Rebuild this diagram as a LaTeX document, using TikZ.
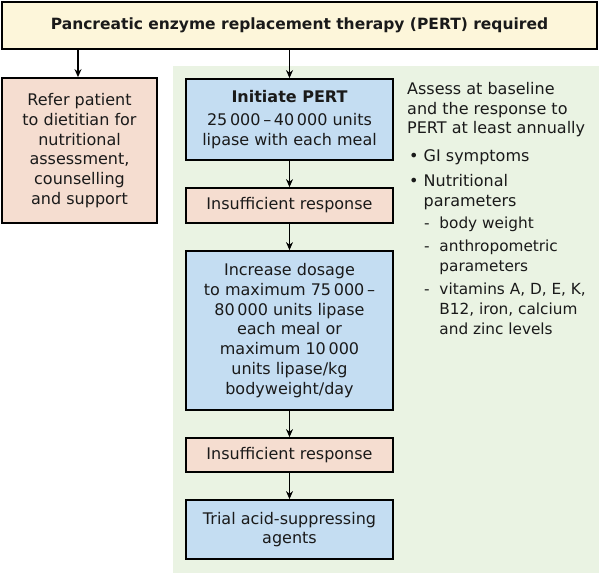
\documentclass[tikz,border=0pt]{standalone}
\usepackage{fontspec}
\setmainfont{DejaVu Sans}
\usetikzlibrary{arrows.meta}
\definecolor{cream}{HTML}{FDF6DA}
\definecolor{pinkbox}{HTML}{F5DDD0}
\definecolor{bluebox}{HTML}{C4DDF2}
\definecolor{greenbg}{HTML}{EAF3E3}
\definecolor{ink}{HTML}{1A1A1A}
\begin{document}
\begin{tikzpicture}[x=1pt,y=-1pt,
  txt/.style={font=\fontsize{16}{19.8}\selectfont},
  box/.style={draw=black,line width=1.8pt,align=center,inner sep=0pt,text=ink,txt},
  side/.style={anchor=north west,inner sep=0pt,text=ink,align=left,txt},
  subside/.style={side,font=\fontsize{15.3}{19.8}\selectfont},
  arr/.style={-{Stealth[length=8pt,width=7pt]},line width=1.2pt,draw=black}]
\useasboundingbox (0,0) rectangle (600,574);
\fill[greenbg] (173,66) rectangle (599,573);
\node[box,fill=cream,minimum width=595pt,minimum height=47pt,font=\fontsize{15.5}{18}\selectfont\bfseries] (top) at (299.5,25.5) {Pancreatic enzyme replacement therapy (PERT) required};
\node[box,fill=pinkbox,minimum width=155pt,minimum height=145pt] (diet) at (79.5,150.5) {Refer patient\\to dietitian for\\nutritional\\assessment,\\counselling\\and support};
\node[box,fill=bluebox,minimum width=207pt,minimum height=81pt] (init) at (289.5,119.5) {\textbf{Initiate PERT}\\[3pt]25\,000\,–\,40\,000 units\\lipase with each meal};
\node[box,fill=pinkbox,minimum width=207pt,minimum height=35pt] (ins1) at (289.5,205.5) {Insufficient response};
\node[box,fill=bluebox,minimum width=207pt,minimum height=159pt] (incr) at (289.5,330.5) {Increase dosage\\to maximum 75\,000\,–\\80\,000 units lipase\\each meal or\\maximum 10\,000\\units lipase/kg\\bodyweight/day};
\node[box,fill=pinkbox,minimum width=207pt,minimum height=34pt] (ins2) at (289.5,455) {Insufficient response};
\node[box,fill=bluebox,minimum width=207pt,minimum height=59pt] (trial) at (289.5,529.5) {Trial acid-suppressing\\agents};
\coordinate (tl) at (78,49);
\coordinate (tr) at (289.5,49);
\draw[arr] (tl) -- (diet.north -| tl);
\draw[arr] (tr) -- (init.north);
\draw[arr] (init.south) -- (ins1.north);
\draw[arr] (ins1.south) -- (incr.north);
\draw[arr] (incr.south) -- (ins2.north);
\draw[arr] (ins2.south) -- (trial.north);
\node[side] (assess) at (407,82) {Assess at baseline\\and the response to\\PERT at least annually};
\node[side] (b1) at (409,149) {•\ GI symptoms};
\node[side] (b2) at (409,174) {•\ Nutritional\\\phantom{•\ }parameters};
\node[subside] (s1) at (424,217) {-\ \ body weight};
\node[subside] (s2) at (424,240) {-\ \ anthropometric\\\phantom{-\ \ }parameters};
\node[subside] (s3) at (424,283) {-\ \ vitamins A, D, E, K,\\\phantom{-\ \ }B12, iron, calcium\\\phantom{-\ \ }and zinc levels};
\end{tikzpicture}
\end{document}
